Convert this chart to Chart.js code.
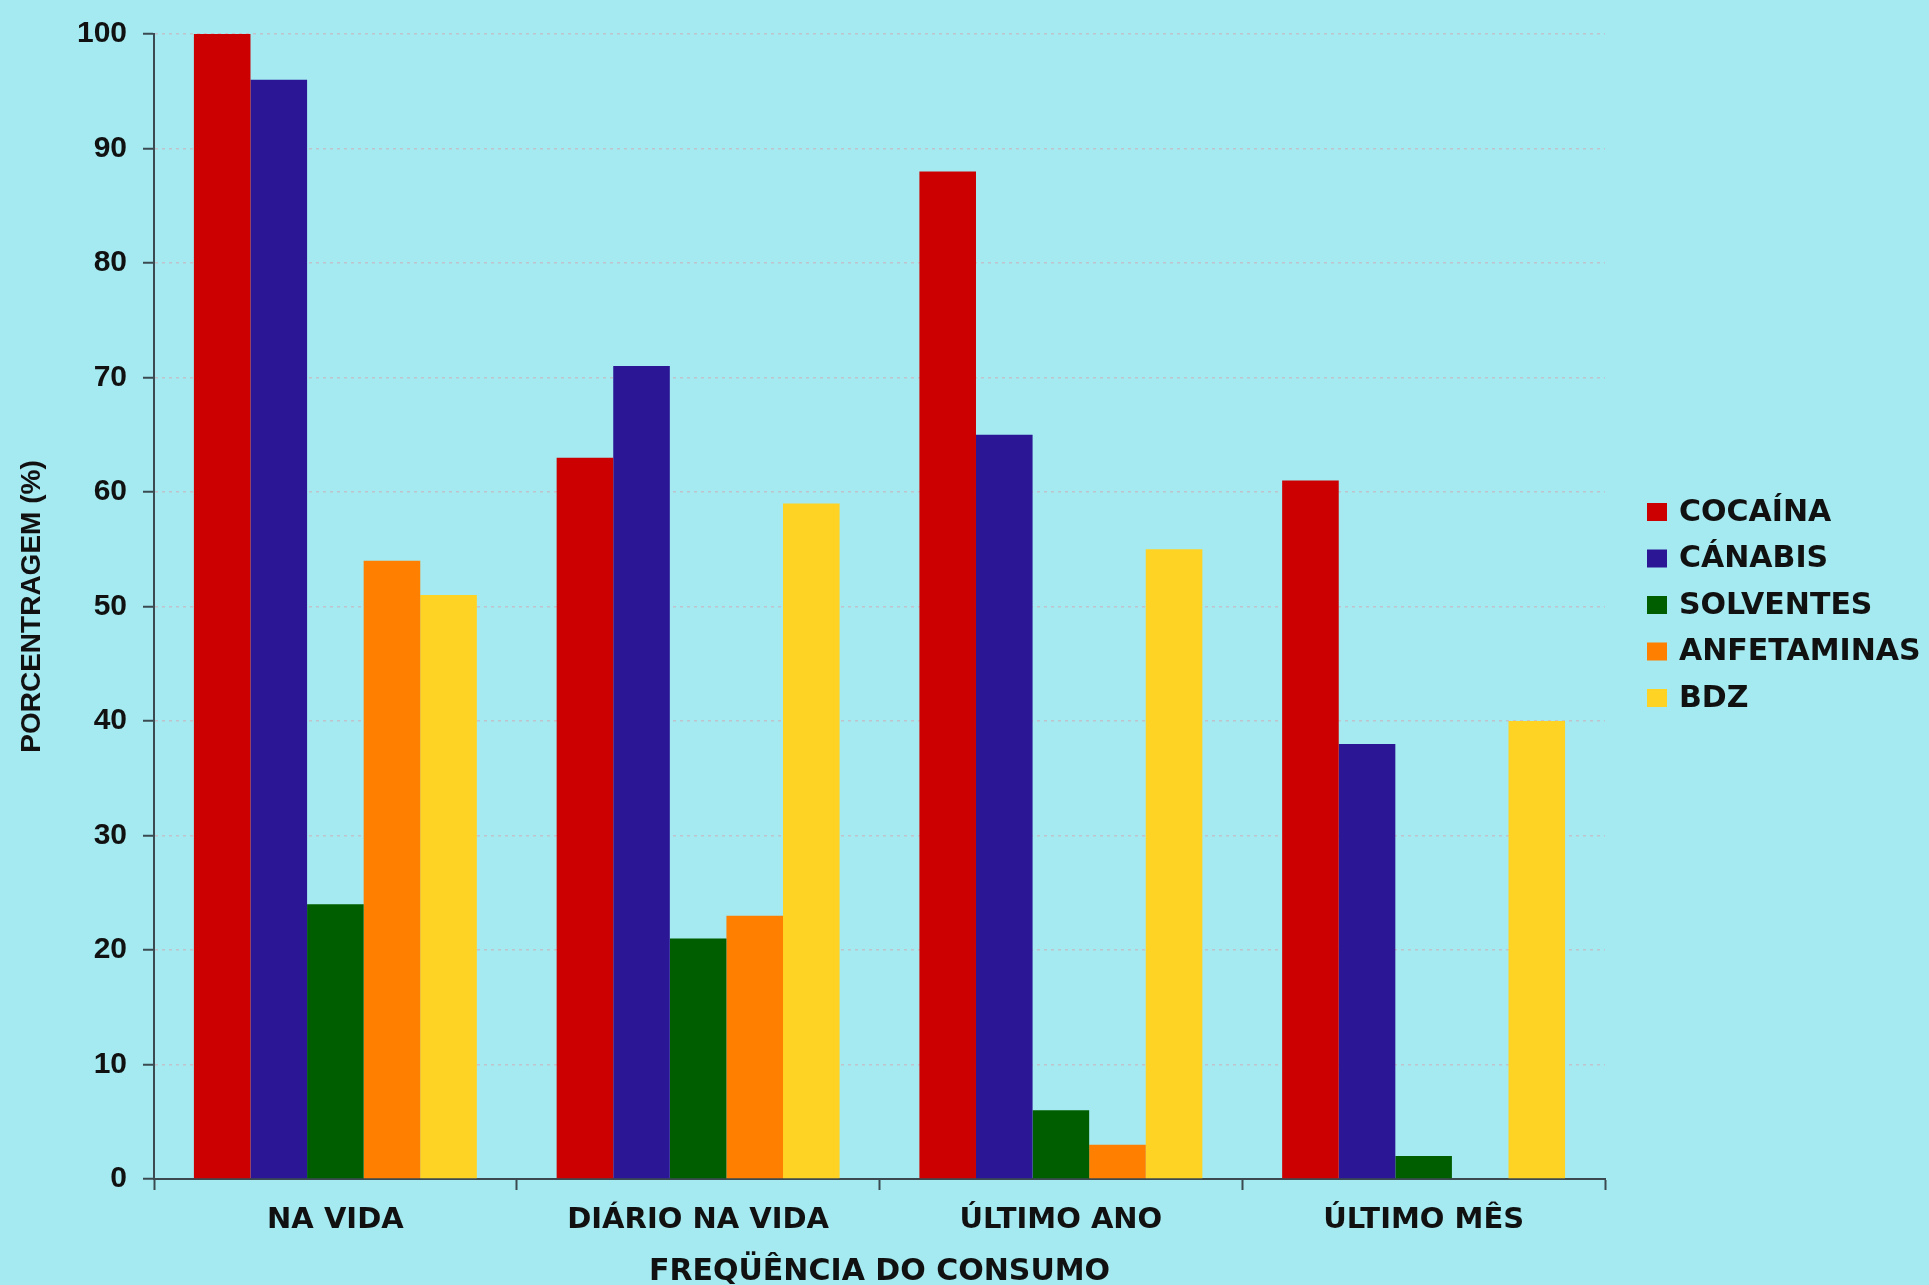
<!DOCTYPE html>
<html lang="pt">
<head>
  <meta charset="UTF-8">
  <title>Frequência do consumo</title>
  <script src="https://cdn.jsdelivr.net/npm/chart.js"></script>
  <style>
    html, body {
      margin: 0;
      padding: 0;
      background-color: #a4eaf0;
      overflow: hidden;
    }
    #chart {
      display: block;
    }
  </style>
</head>
<body>
  <canvas id="chart" width="1929" height="1285"></canvas>

  <script>
    const categories = ['NA VIDA', 'DIÁRIO NA VIDA', 'ÚLTIMO ANO', 'ÚLTIMO MÊS'];
    const drugs = ['COCAÍNA', 'CÁNABIS', 'SOLVENTES', 'ANFETAMINAS', 'BDZ'];
    const cocaina = [100, 63, 88, 61];
    const canabis = [96, 71, 65, 38];
    const solventes = [24, 21, 6, 2];
    const anfetaminas = [54, 23, 3, 0];
    const bdz = [51, 59, 55, 40];
    const colors = ['#cc0000', '#2b1796', '#005e00', '#ff7f00', '#ffd324'];

    const series = [cocaina, canabis, solventes, anfetaminas, bdz];

    // legend drawn by hand so it sits where the original one is
    const sideLegend = {
      id: 'sideLegend',
      afterDraw(chart) {
        const ctx = chart.ctx;
        ctx.save();
        ctx.font = 'bold 30px "DejaVu Sans"';
        ctx.textBaseline = 'middle';
        chart.data.datasets.forEach((ds, i) => {
          const y = 512 + i * 46.5;
          ctx.fillStyle = ds.backgroundColor;
          ctx.fillRect(1647, y - 9, 20, 18);
          ctx.fillStyle = '#111';
          ctx.fillText(ds.label, 1679, y + 1);
        });
        ctx.restore();
      }
    };

    new Chart(document.getElementById('chart'), {
      type: 'bar',
      data: {
        labels: categories,
        datasets: drugs.map((name, i) => ({
          label: name,
          data: series[i],
          backgroundColor: colors[i],
          borderWidth: 0,
          barPercentage: 1,
          categoryPercentage: 0.78
        }))
      },
      options: {
        responsive: false,
        devicePixelRatio: 1,
        animation: false,
        layout: { padding: { left: 0, top: 33, right: 324, bottom: 0 } },
        plugins: {
          legend: { display: false },
          tooltip: { enabled: false }
        },
        scales: {
          x: {
            afterFit(scale) { scale.height = 106; },
            grid: {
              offset: true,
              drawOnChartArea: false,
              drawTicks: true,
              tickLength: 11,
              tickColor: '#3b4a50',
              tickWidth: 2
            },
            border: { display: true, color: '#3b4a50', width: 2 },
            ticks: {
              color: '#111',
              padding: 13,
              font: { family: '"DejaVu Sans", sans-serif', size: 29, weight: 'bold' }
            },
            title: {
              display: true,
              text: 'FREQÜÊNCIA DO CONSUMO',
              color: '#111',
              padding: { top: 0, bottom: -5 },
              font: { family: '"DejaVu Sans", sans-serif', size: 30, weight: 'bold' }
            }
          },
          y: {
            min: 0,
            max: 100,
            afterFit(scale) { scale.width = 154; },
            ticks: {
              stepSize: 10,
              color: '#111',
              padding: 16,
              font: { family: '"Liberation Sans", Arial, sans-serif', size: 30, weight: 'bold' }
            },
            grid: {
              color: 'rgba(200, 185, 195, 0.8)',
              lineWidth: 1.5,
              tickLength: 11,
              tickColor: '#3b4a50',
              tickWidth: 2
            },
            border: { display: true, color: '#3b4a50', width: 2, dash: [3, 4] },
            title: {
              display: true,
              text: 'PORCENTRAGEM (%)',
              color: '#111',
              padding: { top: 15, bottom: 0 },
              font: { family: '"Liberation Sans", Arial, sans-serif', size: 28, weight: 'bold' }
            }
          }
        }
      },
      plugins: [sideLegend]
    });
  </script>
</body>
</html>
